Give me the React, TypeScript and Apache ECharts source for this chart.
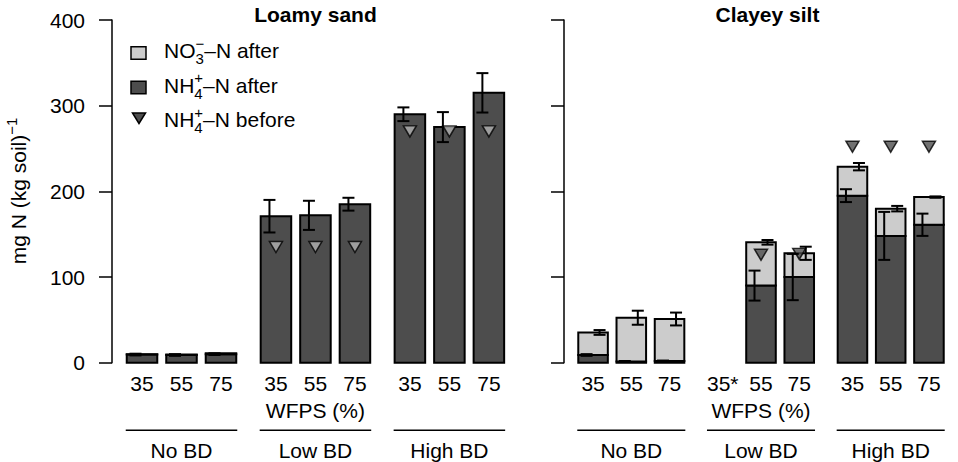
import React, { useEffect, useRef } from 'react';
import * as echarts from 'echarts';

// ---------------- data ----------------
const soils = ['Loamy sand', 'Clayey silt'];
const bdGroups = ['No BD', 'Low BD', 'High BD'];
const wfpsLoamy = ['35', '55', '75', '35', '55', '75', '35', '55', '75'];
const wfpsClayey = ['35', '55', '75', '35*', '55', '75', '35', '55', '75'];
const yTicks = [0, 100, 200, 300, 400];
const xTitle = 'WFPS (%)';

// Loamy sand (mg N per kg soil)
const loamyNH4After = [9.5, 9, 10, 171, 172, 185, 290, 275, 315];
const loamyNH4Err = [1, 1, 1, 19, 17, 7.5, 8, 17.5, 23];
const loamyNO3After = [0.5, 0.5, 1, 0, 0, 0, 0, 0, 0];
const loamyTotErr = [0, 0, 0, 0, 0, 0, 0, 0, 0];
const loamyNH4Before = [null, null, null, 135, 135, 135, 270, 270, 270];

// Clayey silt (35% WFPS with low BD missing)
const clayNH4After = [9, 1.5, 2, null, 90, 100, 195, 148, 161];
const clayNH4Err = [1, 0.5, 0.5, null, 17.5, 27, 7.5, 28, 13];
const clayNO3After = [26.3, 51, 49, null, 50.5, 27.7, 33.8, 31.8, 32.3];
const clayTotErr = [2.8, 8.2, 7.5, null, 2.7, 7.7, 4.3, 3.2, 0.8];
const clayNH4Before = [null, null, null, null, 126, 127, 252, 252, 252];

// legend texts
const legendRows = [
  { base: 'NO', sub: '3', sup: '\u2212', rest: '\u2013N after' },
  { base: 'NH', sub: '4', sup: '+', rest: '\u2013N after' },
  { base: 'NH', sub: '4', sup: '+', rest: '\u2013N before' },
];

// ---------------- style / layout ----------------
const FONT = '"Liberation Sans", Arial, Helvetica, sans-serif';
const FS = 21;
const FS_SMALL = 15;
const DARK = '#4d4d4d';
const LIGHT = '#cccccc';
const TRI_LIGHT = '#b3b3b3';

const UNIT = 32.83;
const FIRST = 0.914;
const BAR_STEP = 1.203;
const GROUP_STEP = 4.08;
const BAR_W = 0.93;
const pos = (k: number) => FIRST + Math.floor(k / 3) * GROUP_STEP + (k % 3) * BAR_STEP;
const positions = Array.from({ length: 9 }, (_, k) => pos(k));
const X_MAX = 2 * pos(4);
const GRID_TOP = 20;
const GRID_H = 342.7;
const panelLeft = [112, 564];

function measure(text: string, size: number, weight = 'normal') {
  const c = document.createElement('canvas').getContext('2d')!;
  c.font = `${weight} ${size}px ${FONT}`;
  return c.measureText(text).width;
}

export default function App() {
  const ref = useRef<HTMLDivElement>(null);

  useEffect(() => {
    document.body.style.margin = '0';
    const chart = echarts.init(ref.current!, null, { renderer: 'svg' });

    const panels = [
      { title: soils[0], labels: wfpsLoamy, nh4: loamyNH4After, nh4Err: loamyNH4Err, no3: loamyNO3After, totErr: loamyTotErr, before: loamyNH4Before },
      { title: soils[1], labels: wfpsClayey, nh4: clayNH4After, nh4Err: clayNH4Err, no3: clayNO3After, totErr: clayTotErr, before: clayNH4Before },
    ];

    const grids: any[] = [];
    const xAxes: any[] = [];
    const yAxes: any[] = [];
    const series: any[] = [];
    const graphics: any[] = [];

    panels.forEach((pn, p) => {
      grids.push({ left: panelLeft[p], top: GRID_TOP, width: X_MAX * UNIT, height: GRID_H });
      xAxes.push({
        type: 'value', gridIndex: p, min: 0, max: X_MAX,
        axisLine: { show: false }, axisTick: { show: false }, splitLine: { show: false },
        axisLabel: {
          customValues: positions,
          margin: 10,
          fontSize: FS, fontFamily: FONT, color: '#000',
          formatter: (v: number) => {
            const i = positions.findIndex((q) => Math.abs(q - v) < 1e-6);
            return i >= 0 ? pn.labels[i] : '';
          },
        },
        name: xTitle, nameLocation: 'middle', nameGap: 37,
        nameTextStyle: { fontSize: FS, fontFamily: FONT, color: '#000' },
      });
      yAxes.push({
        type: 'value', gridIndex: p, min: yTicks[0], max: yTicks[yTicks.length - 1], interval: 100,
        axisLine: { show: true, lineStyle: { color: '#000', width: 1.5 } },
        axisTick: { show: true, length: 13, lineStyle: { color: '#000', width: 1.5 } },
        splitLine: { show: false },
        axisLabel: { show: p === 0, fontSize: FS, fontFamily: FONT, color: '#000', margin: 27 },
      });

      const idx = [0, 1, 2, 3, 4, 5, 6, 7, 8].filter((k) => pn.nh4[k] != null);
      const barData = idx.map((k) => [positions[k], pn.nh4[k], pn.no3[k], pn.nh4Err[k], pn.totErr[k]]);

      series.push({
        type: 'custom', name: 'NH4+-N after', xAxisIndex: p, yAxisIndex: p, z: 2,
        data: barData, encode: { x: 0, y: 1 },
        renderItem: (params: any, api: any) => {
          const x = api.value(0);
          const a = api.value(1);
          const [cx, y0] = api.coord([x, 0]);
          const y1 = api.coord([x, a])[1];
          const w = api.size([BAR_W, 0])[0];
          return {
            type: 'rect',
            shape: { x: cx - w / 2, y: y1, width: w, height: y0 - y1 },
            style: { fill: DARK, stroke: '#000', lineWidth: 2 },
          };
        },
      });
      series.push({
        type: 'custom', name: 'NO3--N after', xAxisIndex: p, yAxisIndex: p, z: 2,
        data: barData, encode: { x: 0, y: 2 },
        renderItem: (params: any, api: any) => {
          const x = api.value(0);
          const a = api.value(1);
          const b = api.value(2);
          if (!(b > 0)) return { type: 'group', children: [] };
          const cx = api.coord([x, 0])[0];
          const y1 = api.coord([x, a])[1];
          const y2 = api.coord([x, a + b])[1];
          const w = api.size([BAR_W, 0])[0];
          return {
            type: 'rect',
            shape: { x: cx - w / 2, y: y2, width: w, height: y1 - y2 },
            style: { fill: LIGHT, stroke: '#000', lineWidth: 2 },
          };
        },
      });
      series.push({
        type: 'scatter', name: 'NH4+-N before', xAxisIndex: p, yAxisIndex: p, z: 3,
        symbol: 'triangle', symbolRotate: 180, symbolSize: [13, 11],
        itemStyle: { borderColor: '#000', borderWidth: 1.5 },
        data: [0, 1, 2, 3, 4, 5, 6, 7, 8]
          .filter((k) => pn.before[k] != null)
          .map((k) => ({
            value: [positions[k], pn.before[k]],
            itemStyle: { color: (pn.before[k] as number) < ((pn.nh4[k] as number) ?? 0) ? TRI_LIGHT : DARK },
          })),
      });
      series.push({
        type: 'custom', name: 'error bars', xAxisIndex: p, yAxisIndex: p, z: 4, silent: true,
        data: barData, encode: { x: 0, y: 1 },
        renderItem: (params: any, api: any) => {
          const x = api.value(0);
          const a = api.value(1);
          const b = api.value(2);
          const ea = api.value(3);
          const eb = api.value(4);
          const cx = api.coord([x, 0])[0];
          const children: any[] = [];
          const st = { stroke: '#000', lineWidth: 2 };
          const bar = (ex: number, lo: number, hi: number) => {
            const yl = api.coord([x, lo])[1];
            const yh = api.coord([x, hi])[1];
            children.push({ type: 'line', shape: { x1: ex, y1: yl, x2: ex, y2: yh }, style: st });
            children.push({ type: 'line', shape: { x1: ex - 6, y1: yl, x2: ex + 6, y2: yl }, style: st });
            children.push({ type: 'line', shape: { x1: ex - 6, y1: yh, x2: ex + 6, y2: yh }, style: st });
          };
          if (ea > 0) bar(cx - 6.5, a - ea, a + ea);
          if (eb > 0) bar(cx + 6.5, a + b - eb, a + b + eb);
          return { type: 'group', children };
        },
      });
      series.push({
        type: 'custom', name: 'BD groups', xAxisIndex: p, yAxisIndex: p, z: 1, silent: true,
        data: bdGroups.map((g, i) => [positions[i * 3], positions[i * 3 + 2], i]),
        encode: { x: [0, 1] },
        renderItem: (params: any, api: any) => {
          const x1 = api.value(0);
          const x2 = api.value(1);
          const gi = api.value(2);
          const w = api.size([BAR_W, 0])[0];
          const [p1, y0] = api.coord([x1, 0]);
          const p2 = api.coord([x2, 0])[0];
          return {
            type: 'group',
            children: [
              { type: 'line', shape: { x1: p1 - w / 2 - 1, y1: y0 + 67.5, x2: p2 + w / 2 + 1, y2: y0 + 67.5 }, style: { stroke: '#000', lineWidth: 1.5 } },
              {
                type: 'text', x: (p1 + p2) / 2, y: y0 + 87.3,
                style: { text: bdGroups[gi], align: 'center', verticalAlign: 'middle', fontSize: FS, fontFamily: FONT, fill: '#000' },
              },
            ],
          };
        },
      });

      // panel title
      const cTitle = panelLeft[p] + pos(4) * UNIT;
      graphics.push({
        type: 'text', x: cTitle, y: 14.3,
        style: { text: pn.title, align: 'center', verticalAlign: 'middle', textAlign: 'center', textVerticalAlign: 'middle', fontSize: FS, fontWeight: 'bold', fontFamily: FONT, fill: '#000' },
      });
    });

    // y axis title
    graphics.push({
      type: 'text', x: 18.5, y: 191, rotation: Math.PI / 2,
      style: {
        text: '{n|mg N (kg soil)}{s|\u22121}',
        align: 'center', verticalAlign: 'middle', textAlign: 'center', textVerticalAlign: 'middle',
        rich: {
          n: { fontSize: FS, fontFamily: FONT, fill: '#000', lineHeight: 30, verticalAlign: 'middle' },
          s: { fontSize: FS_SMALL, fontFamily: FONT, fill: '#000', lineHeight: 14, verticalAlign: 'top' },
        },
      },
    });

    // legend
    const textX = 164;
    legendRows.forEach((r, i) => {
      const yc = 50.5 + i * 34.5;
      if (i < 2) {
        graphics.push({ type: 'rect', shape: { x: 131, y: yc + 2.5 - 6.3, width: 15, height: 12.6 }, style: { fill: i === 0 ? LIGHT : DARK, stroke: '#000', lineWidth: 1.5 } });
      } else {
        graphics.push({ type: 'polygon', shape: { points: [[132.5, yc - 6.5], [145.5, yc - 6.5], [139, yc + 4]] }, style: { fill: DARK, stroke: '#000', lineWidth: 1.5 } });
      }
      const wBase = measure(r.base, FS);
      const wSmall = Math.max(measure(r.sub, FS_SMALL), measure(r.sup, FS_SMALL));
      const common = { verticalAlign: 'middle', textVerticalAlign: 'middle', align: 'left', textAlign: 'left', fontFamily: FONT, fill: '#000' };
      graphics.push({ type: 'text', x: textX, y: yc, style: { ...common, text: r.base, fontSize: FS } });
      graphics.push({ type: 'text', x: textX + wBase, y: yc + 8, style: { ...common, text: r.sub, fontSize: FS_SMALL } });
      graphics.push({ type: 'text', x: textX + wBase, y: yc - 7.5, style: { ...common, text: r.sup, fontSize: FS_SMALL } });
      graphics.push({ type: 'text', x: textX + wBase + wSmall, y: yc, style: { ...common, text: r.rest, fontSize: FS } });
    });

    chart.setOption({
      animation: false,
      backgroundColor: '#ffffff',
      textStyle: { fontFamily: FONT },
      grid: grids,
      xAxis: xAxes,
      yAxis: yAxes,
      series,
      graphic: graphics,
    });

    return () => chart.dispose();
  }, []);

  return <div ref={ref} style={{ width: 958, height: 462 }} />;
}
